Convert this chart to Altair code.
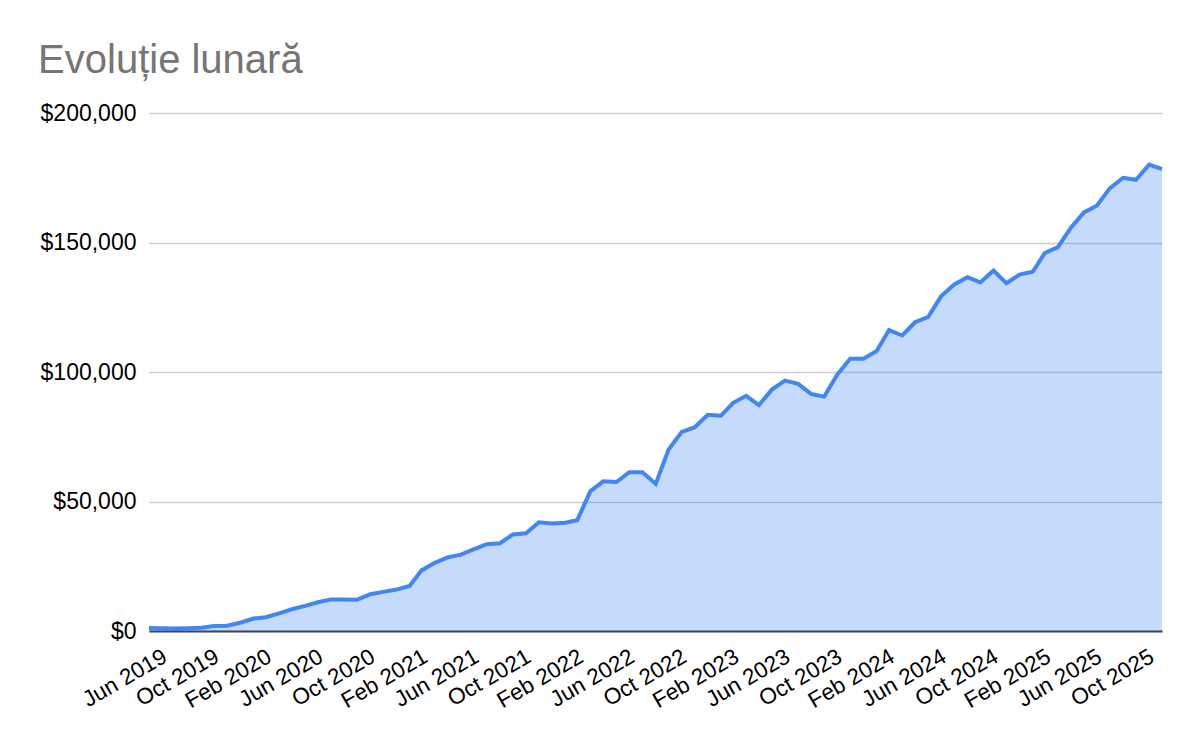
import altair as alt
import pandas as pd

# Monthly categories (Jun 2019 .. Dec 2025)
months = [d.strftime("%Y-%m-%dT00:00:00") for d in pd.date_range("2019-06-01", "2025-12-01", freq="MS")]

values = [
    1200, 1100, 1000, 1100, 1300, 1900, 2000, 3200, 4800, 5300,
    6800, 8400, 9700, 11100, 12200, 12200, 12100, 14200, 15100, 16000,
    17400, 23400, 26300, 28400, 29500, 31500, 33500, 33900, 37300, 37700,
    42000, 41500, 41800, 42800, 54000, 57800, 57500, 61300, 61300, 56800,
    70000, 76900, 78600, 83500, 83100, 88000, 90800, 87200, 93300, 96700,
    95400, 91500, 90500, 99100, 105100, 105100, 108100, 116200, 114100, 119200,
    121300, 129200, 133800, 136600, 134600, 139200, 134300, 137600, 138700, 145900,
    148200, 155600, 161600, 164200, 171000, 175000, 174200, 180100, 178300,
]

# x tick labels: every 4 months from Jun 2019 to Oct 2025
tick_months = [(2019, 6), (2019, 10), (2020, 2), (2020, 6), (2020, 10), (2021, 2), (2021, 6),
               (2021, 10), (2022, 2), (2022, 6), (2022, 10), (2023, 2), (2023, 6), (2023, 10),
               (2024, 2), (2024, 6), (2024, 10), (2025, 2), (2025, 6), (2025, 10)]
y_ticks = [0, 50000, 100000, 150000, 200000]

df = pd.DataFrame({"month": months, "value": values})

FONT = "Liberation Sans"

x_enc = alt.X(
    "month:T",
    scale=alt.Scale(nice=False, padding=0),
    axis=alt.Axis(
        values=[alt.DateTime(year=y, month=m, date=1) for y, m in tick_months],
        format="%b %Y",
        labelAngle=-30,
        labelAlign="right",
        labelBaseline="top",
        labelOffset=10,
        labelPadding=14,
        labelFont=FONT,
        labelFontSize=22.5,
        labelColor="#000000",
        labelOverlap=False,
        labelFlush=False,
        ticks=False,
        grid=False,
        domainColor="#384763",
        domainWidth=2,
        zindex=1,
        title=None,
    ),
)
y_enc = alt.Y(
    "value:Q",
    scale=alt.Scale(domain=[0, 200000], nice=False),
    axis=alt.Axis(
        values=y_ticks,
        format="$,.0f",
        domain=False,
        ticks=False,
        gridColor="#cccccc",
        gridWidth=1.3,
        labelPadding=13,
        labelFont=FONT,
        labelFontSize=23,
        labelColor="#000000",
        title=None,
    ),
)

base = alt.Chart(df)
area = base.mark_area(color="#4285f4", opacity=0.3).encode(x=x_enc, y=y_enc)
line = base.mark_line(color="#4285f4", strokeWidth=4).encode(x="month:T", y="value:Q")

chart = (
    alt.layer(area, line)
    .properties(
        width=1013,
        height=518,
        autosize="none",
        padding={"left": 141, "top": 105, "right": 22, "bottom": 100},
        title=alt.TitleParams(
            "Evoluție lunară",
            anchor="start",
            frame="bounds",
            font=FONT,
            fontSize=40,
            fontWeight="normal",
            color="#757575",
            baseline="alphabetic",
            offset=32,
            dx=-2,
            dy=43,
        ),
    )
    .configure(background="white", view=alt.ViewConfig(stroke=None))
)

chart.save("out.html", embed_options={"renderer": "svg", "actions": False})
